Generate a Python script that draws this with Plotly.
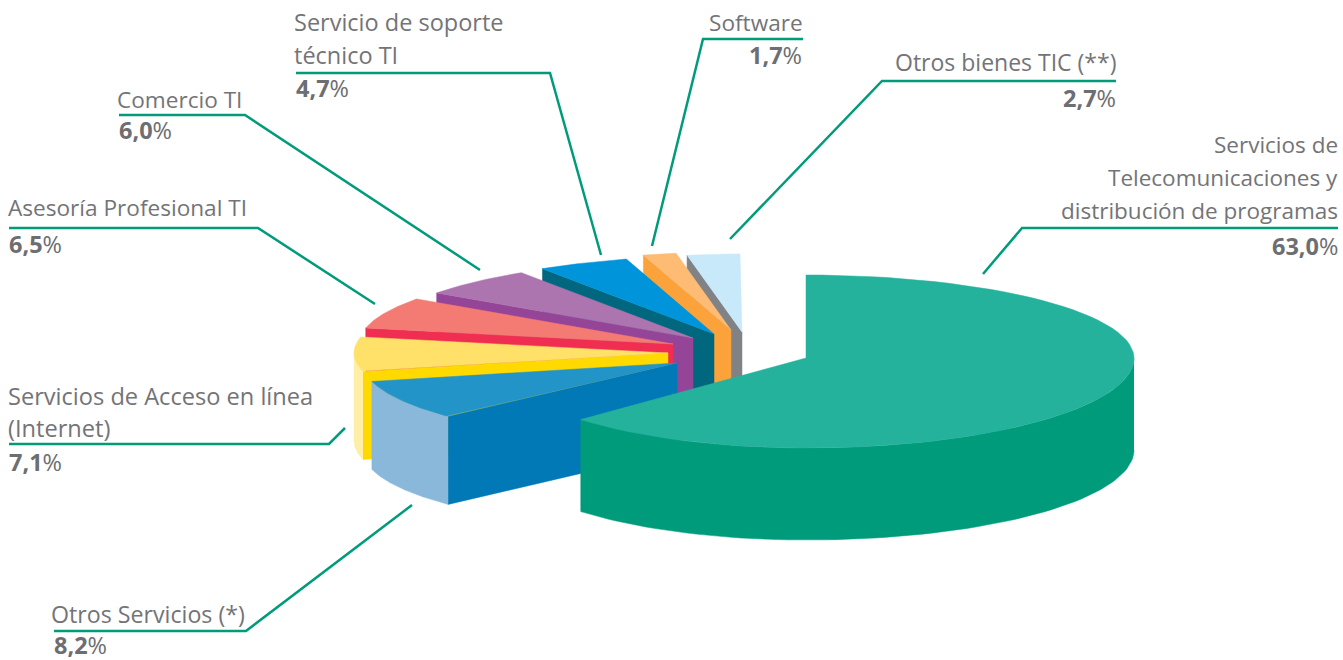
import numpy as np
import plotly.graph_objects as go

# ---- data -------------------------------------------------------------
categories = ["Servicios de Telecomunicaciones y distribución de programas",
              "Otros Servicios (*)", "Servicios de Acceso en línea (Internet)",
              "Asesoría Profesional TI", "Comercio TI",
              "Servicio de soporte técnico TI", "Software", "Otros bienes TIC (**)"]
values = [63.0, 8.2, 7.1, 6.5, 6.0, 4.7, 1.7, 2.7]
value_labels = ["63,0", "8,2", "7,1", "6,5", "6,0", "4,7", "1,7", "2,7"]

# ---- style: colours of top, cut face, outer wall ------------------------
top_colors = ["#24B29C", "#2394C8", "#FFE169", "#F47A74", "#AD75B0", "#0095DA", "#FDBB74", "#C8E9FA"]
face_colors = ["#009B7A", "#0079B6", "#FFD900", "#EF2E52", "#944597", "#00677F", "#FBA23A", "#808285"]
wall_colors = ["#009B7A", "#8AB8DA", "#FFEEA5", "#EF2E52", "#944597", "#00677F", "#FBA23A", "#808285"]

# ---- layout: projection of the exploded pie ----------------------------
origin_x = [806, 677, 668, 673, 693, 714, 731, 742]
origin_y = [358, 363, 353, 344, 338, 334, 330, 332]
RX, RY = 314, 78
DEPTH = 88
MAIN_RX_RIGHT, MAIN_RX_LEFT, MAIN_RY_TOP, MAIN_RY_BOTTOM, MAIN_DEPTH = 328, 309, 83, 90, 92


def rim(i, a):
    """Screen position of the rim at clockwise angle a (degrees from 12 o'clock)."""
    a = np.radians(a)
    s, c = np.sin(a), np.cos(a)
    if i == 0:
        rx = np.where(s >= 0, MAIN_RX_RIGHT, MAIN_RX_LEFT)
        ry = np.where(c >= 0, MAIN_RY_TOP, MAIN_RY_BOTTOM)
    else:
        rx, ry = RX, RY
    return origin_x[i] + rx * s, origin_y[i] - ry * c


def poly(fig, x, y, color, name):
    fig.add_trace(go.Scatter(x=np.asarray(x), y=np.asarray(y), mode="lines", fill="toself",
                             fillcolor=color, line=dict(color=color, width=0.5),
                             hoverinfo="text", text=name, showlegend=False))


fig = go.Figure()

starts = np.cumsum([0] + values[:-1]) * 3.6
ends = np.cumsum(values) * 3.6

# painter's order: far slices first, the large slice last
for i in [7, 6, 5, 4, 3, 2, 1, 0]:
    depth = MAIN_DEPTH if i == 0 else DEPTH
    ang = np.linspace(starts[i], ends[i], 80)
    rx_, ry_ = rim(i, ang)
    ox, oy = origin_x[i], origin_y[i]
    name = f"{categories[i]}: {value_labels[i]}%"
    if i != 0:
        # cut face on the clockwise-start edge
        sx, sy = rim(i, starts[i])
        poly(fig, [ox, float(sx), float(sx), ox, ox],
             [oy, float(sy), float(sy) + depth, oy + depth, oy], face_colors[i], name)
    # outer wall, only where the rim faces the viewer
    lo, hi = max(starts[i], 90), min(ends[i], 270)
    if hi > lo:
        wa = np.linspace(lo, hi, 80)
        wx, wy = rim(i, wa)
        poly(fig, np.r_[wx, wx[::-1]], np.r_[wy, wy[::-1] + depth], wall_colors[i], name)
    # top surface
    poly(fig, np.r_[ox, rx_, ox], np.r_[oy, ry_, oy], top_colors[i], name)

# ---- leader lines ------------------------------------------------------
LEADER = "#009B7A"
leader_x = [[1338, 1022, 983], [54, 246, 412], [9, 329, 345], [9, 258, 375],
            [119, 245, 480], [296, 550, 601], [803, 703, 652], [1116, 882, 730]]
leader_y = [[228, 228, 274], [631, 631, 505], [444, 444, 428], [228, 228, 304],
            [115, 115, 270], [73, 73, 255], [39, 39, 246], [81, 81, 239]]
for lx, ly in zip(leader_x, leader_y):
    fig.add_trace(go.Scatter(x=lx, y=ly, mode="lines", line=dict(color=LEADER, width=2.5),
                             hoverinfo="skip", showlegend=False))

# ---- labels ------------------------------------------------------------
TEXT = "#737477"
FONT = "Open Sans"
label_lines = [["Servicios de", "Telecomunicaciones y", "distribución de programas"],
               ["Otros Servicios (*)"],
               ["Servicios de Acceso en línea", "(Internet)"],
               ["Asesoría Profesional TI"],
               ["Comercio TI"],
               ["Servicio de soporte", "técnico TI"],
               ["Software"],
               ["Otros bienes TIC (**)"]]
label_anchor = ["right", "left", "left", "left", "left", "left", "right", "right"]
label_x = [1338, 51, 8, 8, 117, 294, 803, 1116]
label_y = [[144, 177, 210], [614], [396, 428], [207], [99], [22, 55], [22], [62]]
label_size = [22.5, 23.2, 23.6, 22.6, 22.6, 23.5, 22.6, 23]
value_x = [1338, 54, 9, 9, 119, 296, 802, 1116]
value_y = [246, 645, 462, 244, 130, 88, 55, 98]
VALUE_SIZE = 23.5

for i in range(len(categories)):
    for line, ly in zip(label_lines[i], label_y[i]):
        fig.add_annotation(x=label_x[i], y=ly, text=line, showarrow=False,
                           xanchor=label_anchor[i], yanchor="middle", borderpad=0, borderwidth=0,
                           font=dict(family=FONT, size=label_size[i], color=TEXT))
    fig.add_annotation(x=value_x[i], y=value_y[i], text=f"<b>{value_labels[i]}</b>%", showarrow=False,
                       xanchor=label_anchor[i], yanchor="middle", borderpad=0, borderwidth=0,
                       font=dict(family=FONT, size=VALUE_SIZE, color="#6D6E71"))

fig.update_layout(width=1343, height=660, margin=dict(l=0, r=0, t=0, b=0),
                  paper_bgcolor="white", plot_bgcolor="white", showlegend=False,
                  xaxis=dict(range=[0, 1343], visible=False, fixedrange=True),
                  yaxis=dict(range=[660, 0], visible=False, fixedrange=True))
fig.write_html("out.html", config=dict(displayModeBar=False),
               post_script="document.body.style.margin='0';")
